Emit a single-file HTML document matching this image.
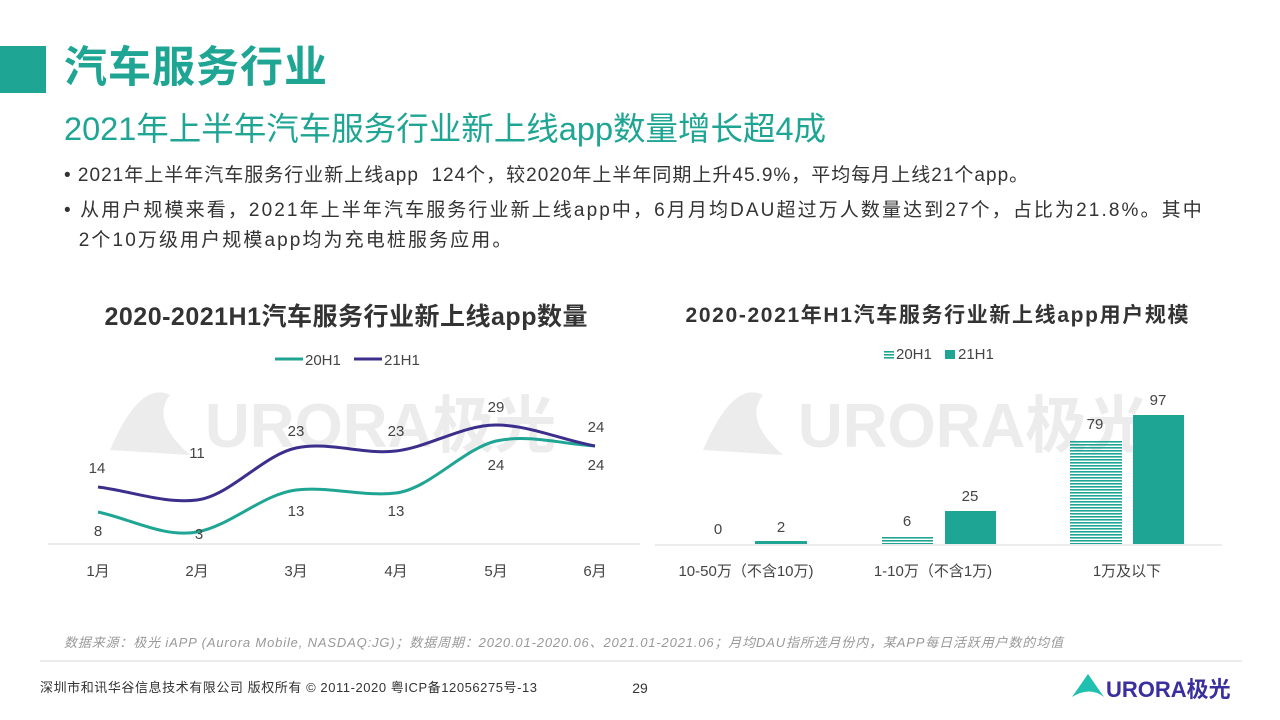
<!DOCTYPE html>
<html><head><meta charset="utf-8"><style>
body{margin:0;width:1280px;height:720px;background:#fff;position:relative;overflow:hidden;font-family:"Liberation Sans","Noto Sans CJK SC",sans-serif;}
.abs{position:absolute;white-space:nowrap;}
</style></head><body>
<div class="abs" style="left:0;top:46px;width:46px;height:47px;background:#1fa593"></div>
<div class="abs" style="left:64px;top:39px;font-size:43px;font-weight:bold;color:#1fa593;line-height:58px;letter-spacing:1px">汽车服务行业</div>
<div class="abs" style="left:64px;top:107px;font-size:32.5px;color:#1fa593;line-height:44px">2021年上半年汽车服务行业新上线app数量增长超4成</div>
<div class="abs" style="left:64px;top:162px;font-size:19px;color:#333;line-height:28px;letter-spacing:1px">•&nbsp;2021年上半年汽车服务行业新上线app&nbsp; 124个，较2020年上半年同期上升45.9%，平均每月上线21个app。</div>
<div class="abs" style="left:64px;top:196px;font-size:19px;color:#333;line-height:30px;letter-spacing:2.1px">•&nbsp;从用户规模来看，2021年上半年汽车服务行业新上线app中，6月月均DAU超过万人数量达到27个，占比为21.8%。其中<br>&nbsp;&nbsp;2个10万级用户规模app均为充电桩服务应用。</div>
<svg class="abs" style="left:0;top:0" width="1280" height="720">
<g font-family="Liberation Sans, Noto Sans CJK SC, sans-serif">
<g fill="#ececec" font-weight="bold" font-size="62">
<path d="M110 450 Q140 380 170 395 Q150 420 190 455 Z"/>
<text x="205" y="447">URORA极光</text>
<path d="M703 450 Q733 380 763 395 Q743 420 783 455 Z"/>
<text x="798" y="447">URORA极光</text>
</g>
<text x="346" y="325" text-anchor="middle" font-size="25" font-weight="bold" fill="#333" textLength="483">2020-2021H1汽车服务行业新上线app数量</text>
<text x="937" y="322" text-anchor="middle" font-size="21" font-weight="bold" fill="#333" textLength="503">2020-2021年H1汽车服务行业新上线app用户规模</text>
<line x1="275" y1="359" x2="303" y2="359" stroke="#1fa593" stroke-width="3"/>
<text x="305" y="365" font-size="15" fill="#444">20H1</text>
<line x1="354" y1="359" x2="382" y2="359" stroke="#3c2f8c" stroke-width="3"/>
<text x="384" y="365" font-size="15" fill="#444">21H1</text>
<line x1="48" y1="544" x2="640" y2="544" stroke="#d9d9d9"/>
<path d="M98 512 C131 519,164 538,197 532 C230 526,263 494,296 490 C329 486,363 497,396 493 C429 489,463 449,496 441 C529 434,562 444,595 446" fill="none" stroke="#1fa593" stroke-width="3"/>
<path d="M98 487 C131 491,164 504,197 500 C230 496,263 455,296 448 C329 441,363 455,396 451 C429 447,463 425,496 425 C529 425,562 440,595 446" fill="none" stroke="#3c2f8c" stroke-width="3"/>
<g font-size="15" fill="#444" text-anchor="middle">
<text x="97" y="473">14</text><text x="98" y="536">8</text>
<text x="197" y="458">11</text><text x="199" y="539">3</text>
<text x="296" y="436">23</text><text x="296" y="516">13</text>
<text x="396" y="436">23</text><text x="396" y="516">13</text>
<text x="496" y="412">29</text><text x="496" y="470">24</text>
<text x="596" y="432">24</text><text x="596" y="470">24</text>
<text x="98" y="576">1月</text><text x="197" y="576">2月</text><text x="296" y="576">3月</text>
<text x="396" y="576">4月</text><text x="496" y="576">5月</text><text x="595" y="576">6月</text>
</g>
<defs><pattern id="h" width="4" height="3" patternUnits="userSpaceOnUse"><rect width="4" height="1.6" fill="#1fa593"/></pattern></defs>
<rect x="884" y="350" width="10" height="9" fill="url(#h)"/>
<text x="896" y="359" font-size="15" fill="#444">20H1</text>
<rect x="945" y="350" width="10" height="9" fill="#1fa593"/>
<text x="958" y="359" font-size="15" fill="#444">21H1</text>
<line x1="655" y1="545" x2="1222" y2="545" stroke="#d9d9d9"/>
<rect x="755" y="541" width="52" height="3" fill="#1fa593"/>
<rect x="882" y="536" width="51" height="8" fill="url(#h)"/>
<rect x="945" y="511" width="51" height="33" fill="#1fa593"/>
<rect x="1070" y="440" width="52" height="104" fill="url(#h)"/>
<rect x="1133" y="415" width="51" height="129" fill="#1fa593"/>
<g font-size="15" fill="#444" text-anchor="middle">
<text x="718" y="534">0</text><text x="781" y="532">2</text>
<text x="907" y="526">6</text><text x="970" y="501">25</text>
<text x="1095" y="429">79</text><text x="1158" y="405">97</text>
<text x="746" y="576">10-50万（不含10万)</text>
<text x="933" y="576">1-10万（不含1万)</text>
<text x="1127" y="576">1万及以下</text>
</g>
<text x="64" y="647" font-size="13" font-style="italic" fill="#999" textLength="999">数据来源：极光 iAPP (Aurora Mobile, NASDAQ:JG)；数据周期：2020.01-2020.06、2021.01-2021.06；月均DAU指所选月份内，某APP每日活跃用户数的均值</text>
<line x1="40" y1="661" x2="1242" y2="661" stroke="#d9d9d9"/>
<text x="40" y="692" font-size="13" fill="#333" textLength="497">深圳市和讯华谷信息技术有限公司  版权所有 © 2011-2020 粤ICP备12056275号-13</text>
<text x="640" y="693" font-size="14" fill="#333" text-anchor="middle">29</text>
<path d="M1072 697 L1088 674 L1104 697 Q1090 686 1072 697Z" fill="#1fc0b0"/>
<text x="1106" y="697" font-size="22" font-weight="bold" fill="#3a2f9e">URORA极光</text>
</g></svg>
</body></html>
